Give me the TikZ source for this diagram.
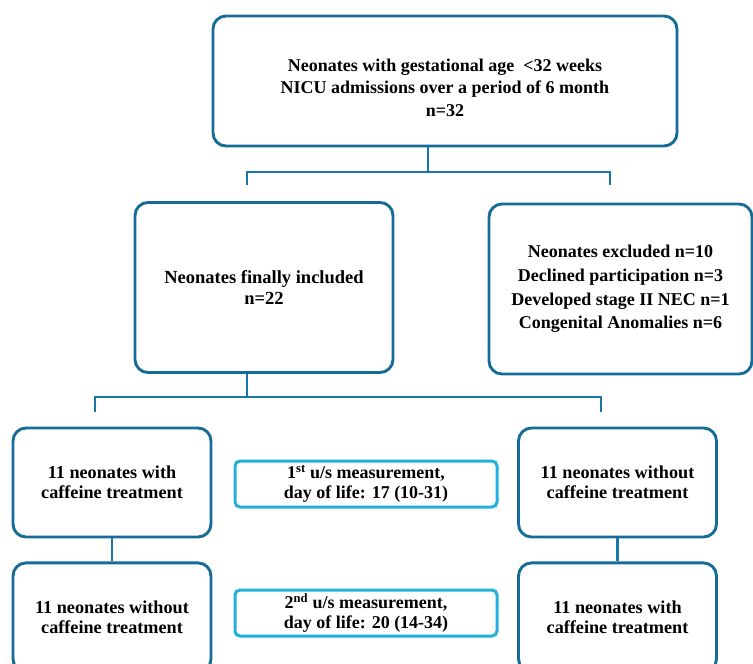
\documentclass[tikz,border=0pt]{standalone}
\usepackage{fontspec}
\setmainfont{Liberation Serif}
\usetikzlibrary{positioning,calc}

\definecolor{boxblue}{RGB}{22,108,152}
\definecolor{linkblue}{RGB}{24,118,172}
\definecolor{measblue}{RGB}{32,176,216}

\tikzset{
  bigbox/.style={draw=boxblue,line width=2.9pt,rounded corners=13pt,align=center,inner sep=0pt,
    font=\bfseries\fontsize{18}{22.5}\selectfont},
  armbox/.style={bigbox,minimum width=198pt,minimum height=109pt,
    font=\bfseries\fontsize{18.2}{20.5}\selectfont},
  measbox/.style={draw=measblue,line width=3pt,rounded corners=5pt,align=center,inner sep=0pt,
    minimum width=262pt,minimum height=46pt,font=\bfseries\fontsize{18}{19.5}\selectfont},
  link/.style={draw=linkblue,line width=2.6pt}
}

\begin{document}
\begin{tikzpicture}[x=1pt,y=-1pt]
\useasboundingbox (0,0) rectangle (753,664);
% the admission box and the two boxes under it
\node[bigbox,minimum width=464pt,minimum height=130pt,text height=71pt] (adm) at (445,81)
  {Neonates with gestational age ~<32 weeks\\NICU admissions over a period of 6 month\\n=32};
\node[bigbox,minimum width=258pt,minimum height=170pt,font=\bfseries\fontsize{18.5}{20.5}\selectfont] (incl) at (264,287.5)
  {Neonates finally included\\n=22};
\node[bigbox,minimum width=263pt,minimum height=170pt,font=\bfseries\fontsize{18}{23.7}\selectfont] (excl) at (620.5,289)
  {Neonates excluded n=10\\Declined participation n=3\\Developed stage II NEC n=1\\Congenital Anomalies n=6};
% the two arms
\node[armbox] (cafA) at (112,482.5) {11 neonates with\\caffeine treatment};
\node[armbox] (noA) [below=23pt of cafA] {11 neonates without\\caffeine treatment};
\node[armbox] (noB) at (617.5,482.5) {11 neonates without\\caffeine treatment};
\node[armbox] (cafB) [below=23pt of noB] {11 neonates with\\caffeine treatment};
% the measurements
\node[measbox] (us1) at (366,484) {1\textsuperscript{st} u/s measurement,\\day of life: 17 (10-31)};
\node[measbox] (us2) at (366,613) {2\textsuperscript{nd} u/s measurement,\\day of life: 20 (14-34)};
% joints of the connectors
\coordinate (j1) at (428,172);
\coordinate (e1) at (247,185);
\coordinate (e2) at (610,185);
\coordinate (j2) at (247,397);
\coordinate (e3) at (95,412);
\coordinate (e4) at (601,412);
% the connectors
\draw[link] (adm.south -| j1) -- (j1);
\draw[link] (e1) |- (j1) -| (e2);
\draw[link] (incl.south -| j2) -- (j2);
\draw[link] (e3) |- (j2) -| (e4);
\draw[link] (cafA) -- (noA);
\draw[link] (noB) -- (cafB);
\end{tikzpicture}
\end{document}
